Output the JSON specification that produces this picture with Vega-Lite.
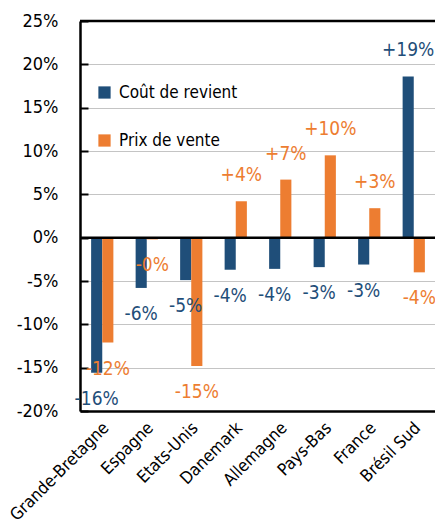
{
  "$schema": "https://vega.github.io/schema/vega-lite/v6.json",
  "autosize": {"type": "none"},
  "padding": {"left": 80, "top": 21, "right": 0, "bottom": 121},
  "width": 356,
  "height": 390,
  "background": "white",
  "config": {
    "view": {"stroke": null},
    "font": "DejaVu Sans Condensed, Liberation Sans, sans-serif"
  },
  "data": {
    "values": [
      {"pays": "Grande-Bretagne", "serie": "Coût de revient", "v": -15.6, "label": "-16%"},
      {"pays": "Grande-Bretagne", "serie": "Prix de vente", "v": -12.1, "label": "-12%"},
      {"pays": "Espagne", "serie": "Coût de revient", "v": -5.8, "label": "-6%"},
      {"pays": "Espagne", "serie": "Prix de vente", "v": -0.2, "label": "-0%"},
      {"pays": "Etats-Unis", "serie": "Coût de revient", "v": -4.9, "label": "-5%"},
      {"pays": "Etats-Unis", "serie": "Prix de vente", "v": -14.8, "label": "-15%"},
      {"pays": "Danemark", "serie": "Coût de revient", "v": -3.7, "label": "-4%"},
      {"pays": "Danemark", "serie": "Prix de vente", "v": 4.2, "label": "+4%"},
      {"pays": "Allemagne", "serie": "Coût de revient", "v": -3.6, "label": "-4%"},
      {"pays": "Allemagne", "serie": "Prix de vente", "v": 6.7, "label": "+7%"},
      {"pays": "Pays-Bas", "serie": "Coût de revient", "v": -3.4, "label": "-3%"},
      {"pays": "Pays-Bas", "serie": "Prix de vente", "v": 9.5, "label": "+10%"},
      {"pays": "France", "serie": "Coût de revient", "v": -3.1, "label": "-3%"},
      {"pays": "France", "serie": "Prix de vente", "v": 3.4, "label": "+3%"},
      {"pays": "Brésil Sud", "serie": "Coût de revient", "v": 18.6, "label": "+19%"},
      {"pays": "Brésil Sud", "serie": "Prix de vente", "v": -4.0, "label": "-4%"}
    ]
  },
  "encoding": {
    "x": {
      "field": "pays", "type": "nominal", "sort": null,
      "scale": {"paddingInner": 0.5, "paddingOuter": 0.25},
      "axis": {
        "title": null, "ticks": false, "domain": true, "domainColor": "#000000", "domainWidth": 2.5,
        "labelAngle": -45, "labelAlign": "right", "labelBaseline": "middle",
        "labelFontSize": 17, "labelColor": "#000000", "labelPadding": 14, "labelOffset": 4
      }
    },
    "xOffset": {"field": "serie", "type": "nominal", "sort": ["Coût de revient", "Prix de vente"], "scale": {"paddingInner": 0, "paddingOuter": 0}},
    "y": {
      "field": "v", "type": "quantitative",
      "scale": {"domain": [-20, 25], "nice": false, "zero": false},
      "axis": {
        "title": null, "values": [-20, -15, -10, -5, 0, 5, 10, 15, 20, 25],
        "labelExpr": "datum.value + '%'",
        "labelFontSize": 18, "labelColor": "#000000", "labelPadding": 30,
        "domainColor": "#000000", "domainWidth": 2.5,
        "tickColor": "#000000", "tickWidth": 2, "tickSize": -8,
        "grid": true, "gridColor": "#c4c4c4", "gridWidth": 1.2
      }
    },
    "color": {
      "field": "serie", "type": "nominal",
      "sort": ["Coût de revient", "Prix de vente"],
      "scale": {"domain": ["Coût de revient", "Prix de vente"], "range": ["#1F4E79", "#ED7D31"]}
    }
  },
  "layer": [
    {
      "mark": {"type": "bar"},
      "encoding": {
        "color": {
          "field": "serie", "type": "nominal",
          "sort": ["Coût de revient", "Prix de vente"],
          "scale": {"domain": ["Coût de revient", "Prix de vente"], "range": ["#1F4E79", "#ED7D31"]},
          "legend": {
            "title": null, "orient": "none", "legendX": 16, "legendY": 63,
            "symbolType": "square", "symbolSize": 150, "symbolStrokeWidth": 0,
            "labelFontSize": 17, "labelColor": "#000000", "rowPadding": 30,
            "labelOffset": 6, "padding": 0
          }
        }
      }
    },
    {
      "transform": [{"filter": "datum.v >= 0"}],
      "mark": {"type": "text", "dy": -26, "fontSize": 19},
      "encoding": {
        "text": {"field": "label"},
        "color": {"field": "serie", "type": "nominal", "legend": null}
      }
    },
    {
      "transform": [{"filter": "datum.v < 0"}],
      "mark": {"type": "text", "dy": 26, "fontSize": 19},
      "encoding": {
        "text": {"field": "label"},
        "color": {"field": "serie", "type": "nominal", "legend": null}
      }
    },
    {
      "data": {"values": [{"r": 25}, {"r": 0}]},
      "mark": {"type": "rule", "color": "#000000", "strokeWidth": 2.5},
      "encoding": {
        "y": {"field": "r", "type": "quantitative"},
        "x": null, "xOffset": null, "color": null
      }
    }
  ]
}
